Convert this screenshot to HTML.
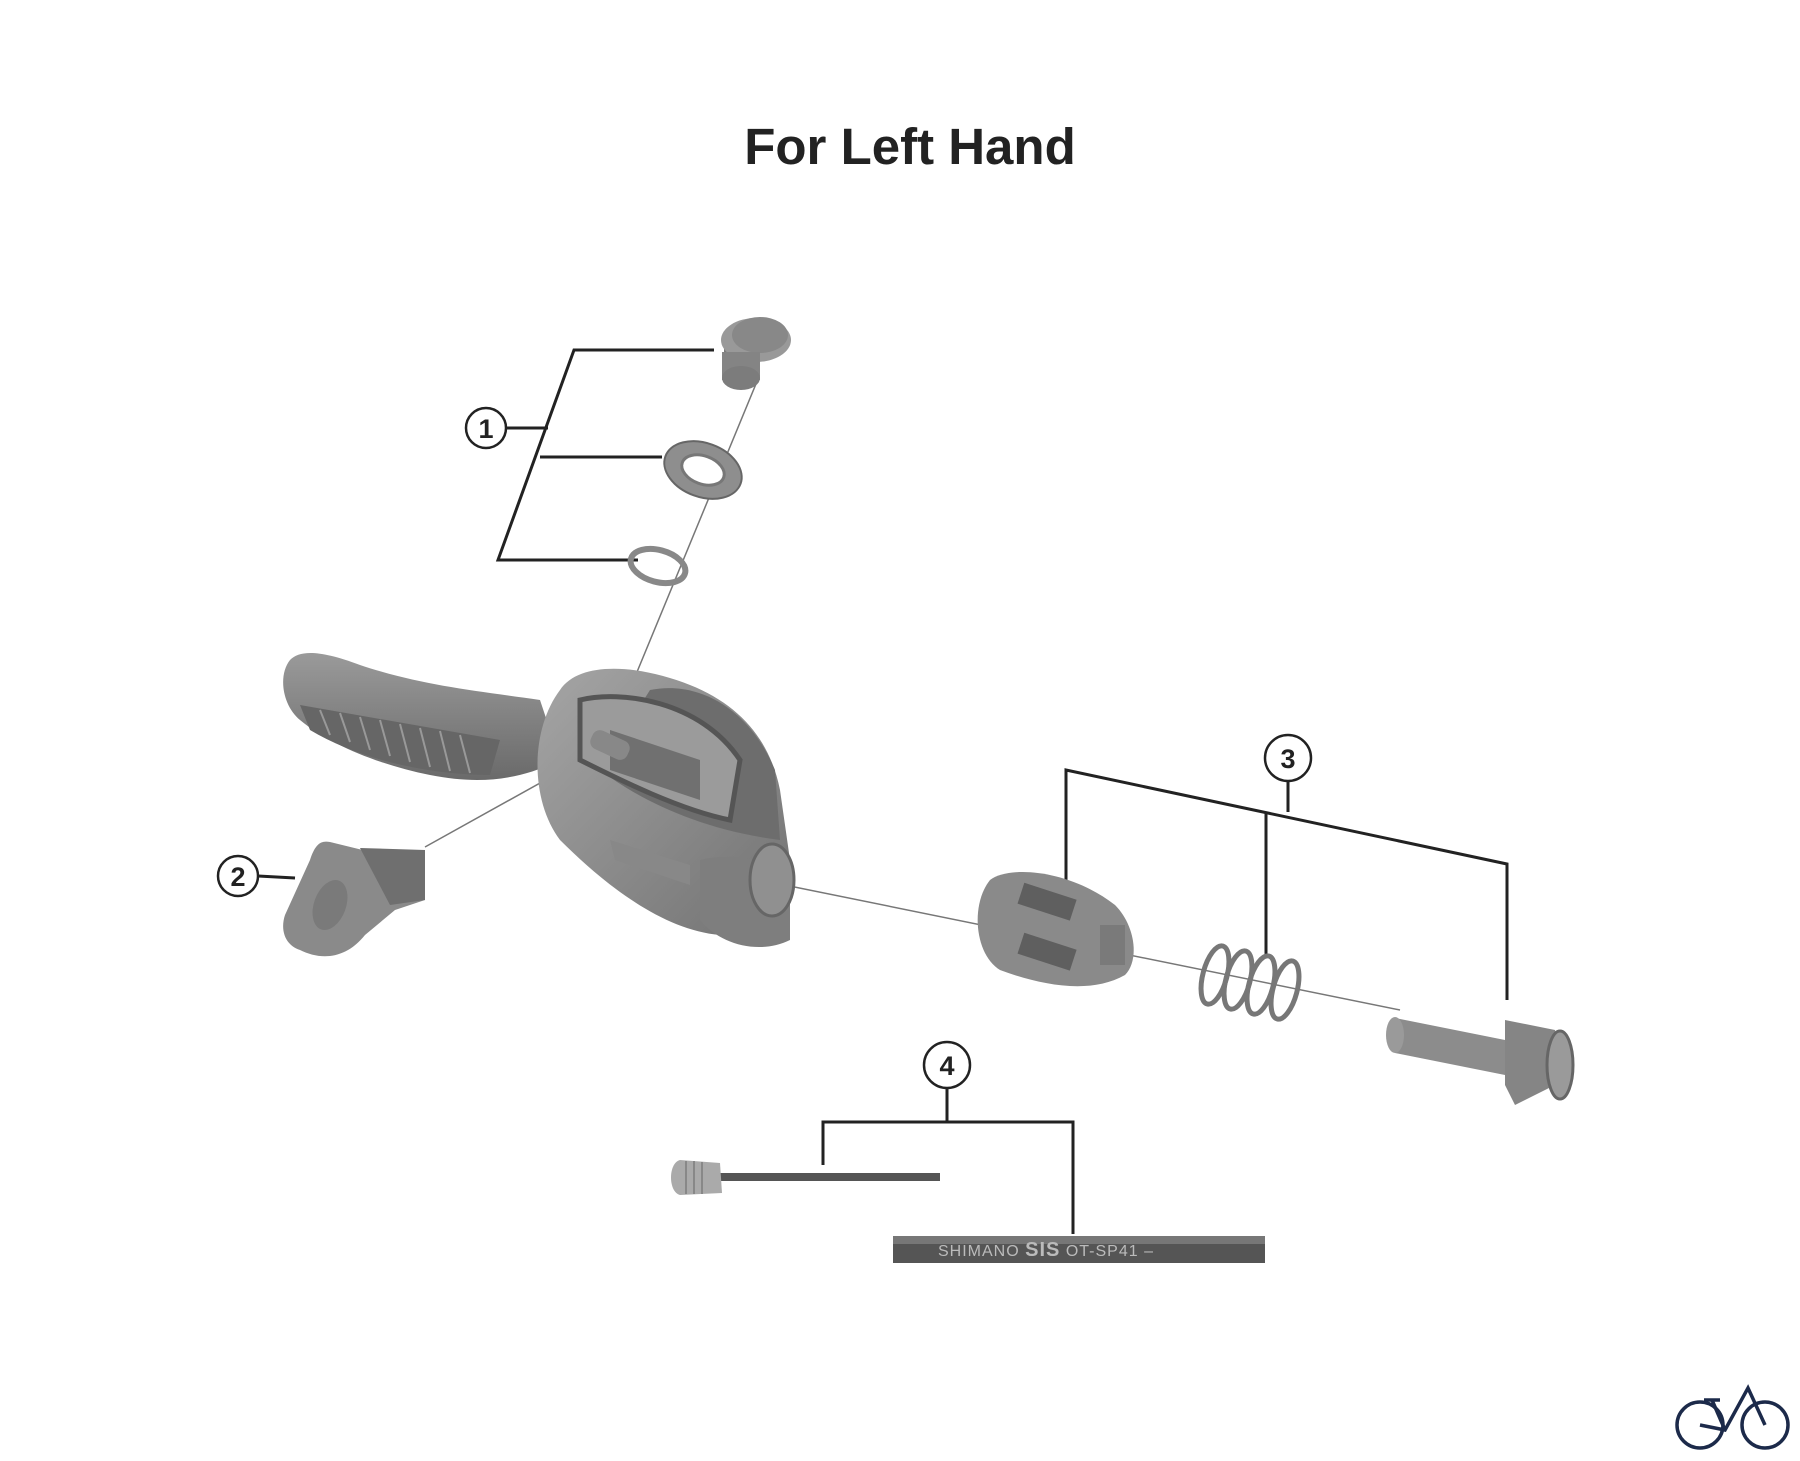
<!DOCTYPE html>
<html><head><meta charset="utf-8"><style>
html,body{margin:0;padding:0;background:#fff;}
svg{display:block}
</style></head><body>
<svg width="1800" height="1461" viewBox="0 0 1800 1461" xmlns="http://www.w3.org/2000/svg" font-family="Liberation Sans, sans-serif">
<defs>
<linearGradient id="g1" x1="0" y1="0" x2="0" y2="1"><stop offset="0" stop-color="#9a9a9a"/><stop offset="1" stop-color="#6a6a6a"/></linearGradient>
<linearGradient id="g2" x1="0" y1="0" x2="1" y2="1"><stop offset="0" stop-color="#a5a5a5"/><stop offset="1" stop-color="#727272"/></linearGradient>
</defs>
<text x="910" y="164" text-anchor="middle" font-size="51" font-weight="bold" fill="#222">For Left Hand</text>

<g stroke="#777" stroke-width="1.5" fill="none">
<line x1="758" y1="379" x2="637" y2="672"/>
<line x1="425" y1="847" x2="585" y2="758"/>
<line x1="760" y1="880" x2="1400" y2="1010"/>
</g>

<g stroke="#222" stroke-width="3" fill="none">
<polyline points="714,350 574,350 498,560 638,560"/>
<line x1="540" y1="457" x2="662" y2="457"/>
<line x1="506" y1="428" x2="548" y2="428"/>
<circle cx="486" cy="428" r="20" stroke-width="2.5"/>
<circle cx="238" cy="876" r="20" stroke-width="2.5"/>
<line x1="258" y1="876" x2="295" y2="878"/>
<circle cx="1288" cy="758" r="23" stroke-width="2.5"/>
<line x1="1288" y1="781" x2="1288" y2="812"/>
<polyline points="1066,901 1066,770 1507,864 1507,1000"/>
<line x1="1266" y1="812" x2="1266" y2="955"/>
<circle cx="947" cy="1065" r="23" stroke-width="2.5"/>
<line x1="947" y1="1088" x2="947" y2="1122"/>
<polyline points="823,1165 823,1122 1073,1122 1073,1234"/>
</g>
<g font-size="27" font-weight="bold" fill="#222" text-anchor="middle">
<text x="486" y="438">1</text>
<text x="238" y="886">2</text>
<text x="1288" y="768">3</text>
<text x="947" y="1075">4</text>
</g>

<g>
<ellipse cx="758" cy="338" rx="22" ry="18" fill="#8a8a8a"/>
<rect x="724" y="338" width="34" height="20" fill="#7a7a7a"/>
<ellipse cx="756" cy="340" rx="35" ry="22" fill="#999"/>
<ellipse cx="760" cy="335" rx="28" ry="18" fill="#888"/>
<rect x="722" y="352" width="38" height="28" fill="#848484"/>
<ellipse cx="741" cy="378" rx="19" ry="12" fill="#7c7c7c"/>
</g>
<ellipse cx="703" cy="470" rx="40" ry="27" transform="rotate(20 703 470)" fill="#8e8e8e" stroke="#666" stroke-width="2"/>
<ellipse cx="703" cy="470" rx="22" ry="14" transform="rotate(20 703 470)" fill="#fff" stroke="#777" stroke-width="3"/>
<ellipse cx="658" cy="566" rx="28" ry="16" transform="rotate(15 658 566)" fill="none" stroke="#888" stroke-width="6"/>

<path d="M290,660 C300,650 320,650 360,665 C420,685 470,690 540,700 L560,760 C520,780 480,785 430,775 C380,765 330,745 300,720 C282,705 278,675 290,660Z" fill="url(#g1)"/>
<path d="M300,705 L500,740 L490,775 C430,775 360,760 310,730Z" fill="#666"/>
<g stroke="#999" stroke-width="2">
<line x1="320" y1="710" x2="330" y2="735"/><line x1="340" y1="713" x2="350" y2="742"/><line x1="360" y1="717" x2="370" y2="750"/><line x1="380" y1="720" x2="390" y2="756"/><line x1="400" y1="724" x2="410" y2="762"/><line x1="420" y1="728" x2="430" y2="767"/><line x1="440" y1="731" x2="450" y2="771"/><line x1="460" y1="735" x2="470" y2="773"/>
</g>
<path d="M560,690 C580,660 640,665 690,685 C740,705 770,740 780,790 L790,860 C790,910 760,935 720,935 C660,930 600,880 560,840 C530,800 530,730 560,690Z" fill="url(#g2)"/>
<path d="M650,690 C700,680 750,710 775,770 L780,840 C700,830 640,800 600,770Z" fill="#6d6d6d"/>
<path d="M580,700 C620,690 700,700 740,760 L730,820 C680,810 620,780 580,760Z" fill="#9b9b9b" stroke="#555" stroke-width="5"/>
<path d="M610,730 L700,760 L700,800 L610,770Z" fill="#707070"/>
<rect x="590" y="735" width="40" height="20" rx="8" fill="#888" transform="rotate(25 610 745)"/>
<path d="M700,860 C740,850 780,865 790,880 L790,940 C760,955 720,945 700,920Z" fill="#7e7e7e"/>
<ellipse cx="772" cy="880" rx="22" ry="36" fill="#909090" stroke="#666" stroke-width="3"/>
<path d="M610,840 L690,865 L690,885 L615,860Z" fill="#888"/>

<path d="M330,842 L395,858 L425,850 L425,900 L395,910 L365,935 C345,960 320,960 300,950 C285,945 280,930 285,915 L310,860 C315,845 320,840 330,842Z" fill="#8a8a8a"/>
<path d="M360,848 L425,850 L425,900 L390,905Z" fill="#6f6f6f"/>
<ellipse cx="330" cy="905" rx="16" ry="26" fill="#7a7a7a" transform="rotate(20 330 905)"/>

<path d="M990,880 C1010,865 1070,870 1115,905 C1135,925 1140,960 1125,975 C1090,995 1040,985 1000,970 C975,955 970,905 990,880Z" fill="#8a8a8a"/>
<rect x="1020" y="890" width="55" height="22" fill="#5f5f5f" transform="rotate(18 1045 900)"/>
<rect x="1020" y="940" width="55" height="22" fill="#5f5f5f" transform="rotate(18 1045 950)"/>
<rect x="1100" y="925" width="25" height="40" fill="#7a7a7a"/>
<g fill="none" stroke="#777" stroke-width="5">
<ellipse cx="1215" cy="975" rx="12" ry="30" transform="rotate(15 1215 975)"/>
<ellipse cx="1238" cy="980" rx="12" ry="30" transform="rotate(15 1238 980)"/>
<ellipse cx="1261" cy="985" rx="12" ry="30" transform="rotate(15 1261 985)"/>
<ellipse cx="1285" cy="990" rx="12" ry="30" transform="rotate(15 1285 990)"/>
</g>
<path d="M1395,1018 L1505,1040 L1505,1075 L1395,1053Z" fill="#8c8c8c"/>
<ellipse cx="1395" cy="1035" rx="9" ry="18" fill="#9a9a9a"/>
<path d="M1505,1020 L1555,1030 L1565,1080 L1515,1105 L1505,1085Z" fill="#858585"/>
<ellipse cx="1560" cy="1065" rx="13" ry="34" fill="#9a9a9a" stroke="#666" stroke-width="3"/>

<rect x="700" y="1173" width="240" height="8" fill="#555"/>
<path d="M680,1160 L720,1163 L722,1193 L680,1195 C668,1192 668,1163 680,1160Z" fill="#aaa"/>
<g stroke="#888" stroke-width="2"><line x1="686" y1="1161" x2="686" y2="1194"/><line x1="694" y1="1161" x2="694" y2="1194"/><line x1="702" y1="1162" x2="702" y2="1194"/></g>
<rect x="893" y="1236" width="372" height="27" fill="#555"/>
<rect x="893" y="1236" width="372" height="8" fill="#777"/>
<text x="938" y="1256" font-size="16" fill="#bbb" letter-spacing="1">SHIMANO <tspan font-weight="bold" font-size="20">SIS</tspan>  OT-SP41 –</text>

<g fill="none" stroke="#1c2a4a" stroke-width="3.5">
<circle cx="1700" cy="1425" r="23"/>
<circle cx="1765" cy="1425" r="23"/>
<polyline points="1700,1425 1725,1430 1748,1388 1765,1425"/>
<line x1="1725" y1="1430" x2="1712" y2="1400"/>
<line x1="1704" y1="1400" x2="1720" y2="1400"/>
</g>
</svg>
</body></html>
